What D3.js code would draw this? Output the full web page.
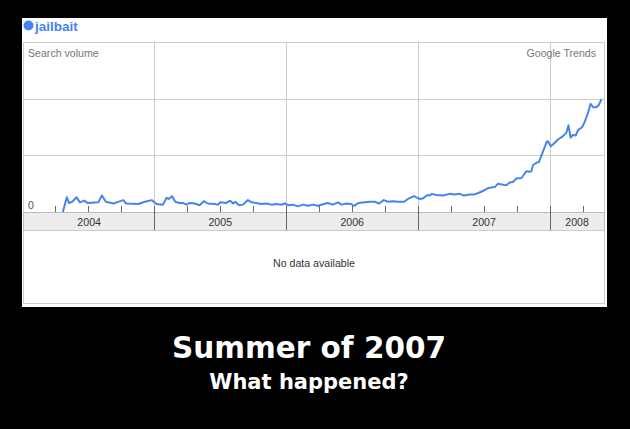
<!DOCTYPE html>
<html>
<head>
<meta charset="utf-8">
<script src="https://cdn.jsdelivr.net/npm/d3@7"></script>
<style>
    body { margin: 0; background: #000; }
    svg { display: block; }
</style>
</head>
<body>
<div id="chart"></div>
<script>

// weekly-ish samples
const dates = [
    "2004-04-23", "2004-05-04", "2004-05-10", "2004-05-19", "2004-05-31", "2004-06-09", "2004-06-21", "2004-06-30",
    "2004-07-30", "2004-08-09", "2004-08-20", "2004-09-10", "2004-09-19", "2004-10-07", "2004-10-15", "2004-11-18",
    "2004-12-06", "2004-12-25", "2005-01-07", "2005-01-25", "2005-02-04", "2005-02-10", "2005-02-19", "2005-02-28",
    "2005-03-12", "2005-03-21", "2005-03-31", "2005-04-09", "2005-04-23", "2005-05-06", "2005-05-18", "2005-05-29",
    "2005-06-17", "2005-06-26", "2005-07-03", "2005-07-19", "2005-07-30", "2005-08-07", "2005-08-13", "2005-08-23",
    "2005-09-03", "2005-09-17", "2005-09-27", "2005-10-10", "2005-10-24", "2005-11-07", "2005-11-21", "2005-12-05",
    "2005-12-19", "2005-12-28", "2006-01-06", "2006-01-20", "2006-02-02", "2006-02-16", "2006-03-02", "2006-03-16",
    "2006-03-30", "2006-04-15", "2006-04-26", "2006-05-10", "2006-05-24", "2006-06-03", "2006-06-16", "2006-06-30",
    "2006-07-09", "2006-07-20", "2006-08-06", "2006-08-20", "2006-09-03", "2006-09-15", "2006-09-28", "2006-10-10",
    "2006-10-23", "2006-11-06", "2006-11-23", "2006-12-04", "2006-12-20", "2007-01-05", "2007-01-14", "2007-01-27",
    "2007-02-02", "2007-02-08", "2007-02-20", "2007-03-11", "2007-03-29", "2007-04-12", "2007-04-26", "2007-05-08",
    "2007-05-24", "2007-06-06", "2007-06-18", "2007-06-29", "2007-07-13", "2007-07-18", "2007-08-01", "2007-08-10",
    "2007-08-24", "2007-09-02", "2007-09-11", "2007-09-20", "2007-09-30", "2007-10-14", "2007-10-23", "2007-10-27",
    "2007-11-04", "2007-11-10", "2007-11-15", "2007-11-24", "2007-12-01", "2007-12-12", "2007-12-23", "2007-12-26",
    "2008-01-03", "2008-01-09", "2008-01-23", "2008-02-06", "2008-02-15", "2008-02-21", "2008-02-27", "2008-03-04",
    "2008-03-12", "2008-03-18", "2008-03-30", "2008-04-06", "2008-04-15", "2008-04-22", "2008-04-29", "2008-05-08",
    "2008-05-15", "2008-05-22"
];

const volume = [
    0, 0.26, 0.16, 0.18, 0.26, 0.17, 0.20, 0.16,
    0.17, 0.29, 0.18, 0.15, 0.17, 0.21, 0.15, 0.14,
    0.18, 0.21, 0.14, 0.13, 0.25, 0.23, 0.28, 0.18,
    0.16, 0.16, 0.13, 0.16, 0.15, 0.12, 0.19, 0.15,
    0.14, 0.13, 0.17, 0.16, 0.20, 0.15, 0.18, 0.12,
    0.13, 0.21, 0.17, 0.16, 0.14, 0.15, 0.13, 0.14,
    0.13, 0.15, 0.12, 0.13, 0.10, 0.13, 0.11, 0.13,
    0.11, 0.14, 0.16, 0.13, 0.17, 0.13, 0.15, 0.14,
    0.11, 0.16, 0.17, 0.18, 0.18, 0.15, 0.21, 0.18,
    0.19, 0.18, 0.18, 0.23, 0.28, 0.23, 0.24, 0.30,
    0.29, 0.32, 0.30, 0.29, 0.32, 0.31, 0.32, 0.29,
    0.31, 0.31, 0.34, 0.37, 0.42, 0.43, 0.44, 0.50,
    0.48, 0.47, 0.52, 0.53, 0.59, 0.60, 0.68, 0.72,
    0.71, 0.72, 0.83, 0.87, 0.88, 1.06, 1.24, 1.25,
    1.16, 1.19, 1.28, 1.34, 1.40, 1.53, 1.31, 1.36,
    1.35, 1.44, 1.50, 1.59, 1.75, 1.91, 1.85, 1.85,
    1.89, 1.99
];

const yearLabels = ["2004", "2005", "2006", "2007", "2008"];
const seriesName = "jailbait";
const title = "Summer of 2007";
const subtitle = "What happened?";

const width = 630,
    height = 429,
    plot = ({ top: 42, right: 604, bottom: 212, left: 24 }),
    band = 18; // height of the grey year strip

let parse = d3.timeParse("%Y-%m-%d");
let data = dates.map((d, i) => ({ date: parse(d), value: volume[i] }));

let svg = d3.select("#chart")
    .append("svg")
    .attr("width", width)
    .attr("height", height)
    .attr("viewBox", [0, 0, width, height]);

let x = d3.scaleTime()
    .domain([new Date(2004, 0, 1), new Date(2008, 5, 1)])
    .range([22, 605]);

let y = d3.scaleLinear()
    .domain([0, 3])
    .range([plot.bottom, plot.top]);

const font = "'Liberation Sans', Arial, sans-serif";

// white card
svg.append("rect")
    .attr("x", 22).attr("y", 18)
    .attr("width", 585).attr("height", 289)
    .attr("fill", "#fff");

// legend
svg.append("circle")
    .attr("cx", 28.5).attr("cy", 25.5).attr("r", 5)
    .attr("fill", "#4684ee");

svg.append("text")
    .attr("x", 35).attr("y", 31)
    .attr("font-family", font)
    .attr("font-size", 13.5)
    .attr("font-weight", "bold")
    .attr("fill", "#4684ee")
    .text(seriesName);

// horizontal grid
svg.append("g")
    .selectAll("line")
    .data([1, 2])
    .join("line")
    .attr("x1", plot.left).attr("x2", plot.right)
    .attr("y1", d => Math.round(y(d)) + 0.5)
    .attr("y2", d => Math.round(y(d)) + 0.5)
    .attr("stroke", "#ccc");

let years = d3.timeYear.range(new Date(2005, 0, 1), new Date(2008, 1, 1));
let quarters = d3.timeMonth.every(3).range(new Date(2004, 0, 1), new Date(2008, 5, 1))
    .filter(d => x(d) > plot.left && x(d) < plot.right);

// vertical year grid
svg.append("g")
    .selectAll("line")
    .data(years)
    .join("line")
    .attr("x1", d => Math.round(x(d)) + 0.5)
    .attr("x2", d => Math.round(x(d)) + 0.5)
    .attr("y1", plot.top).attr("y2", plot.bottom)
    .attr("stroke", "#ccc");

// frame
svg.append("rect")
    .attr("x", plot.left - 0.5).attr("y", plot.top + 0.5)
    .attr("width", plot.right - plot.left + 1).attr("height", plot.bottom - plot.top)
    .attr("fill", "none")
    .attr("stroke", "#ccc");

svg.append("text")
    .attr("x", 28).attr("y", 57)
    .attr("font-family", font).attr("font-size", 10.6)
    .attr("fill", "#777")
    .text("Search volume");

svg.append("text")
    .attr("x", 596).attr("y", 57)
    .attr("text-anchor", "end")
    .attr("font-family", font).attr("font-size", 10.6)
    .attr("fill", "#777")
    .text("Google Trends");

svg.append("text")
    .attr("x", 28).attr("y", 209)
    .attr("font-family", font).attr("font-size", 10.6)
    .attr("fill", "#555")
    .text("0");

// year strip
svg.append("rect")
    .attr("x", plot.left - 0.5).attr("y", plot.bottom + 0.5)
    .attr("width", plot.right - plot.left + 1).attr("height", band)
    .attr("fill", "#ededed")
    .attr("stroke", "#bbb");

svg.append("g")
    .selectAll("line")
    .data(years)
    .join("line")
    .attr("x1", d => Math.round(x(d)) + 0.5)
    .attr("x2", d => Math.round(x(d)) + 0.5)
    .attr("y1", plot.bottom).attr("y2", plot.bottom + band)
    .attr("stroke", "#666");

// quarter ticks above the axis
svg.append("g")
    .selectAll("line")
    .data(quarters)
    .join("line")
    .attr("x1", d => Math.round(x(d)) + 0.5)
    .attr("x2", d => Math.round(x(d)) + 0.5)
    .attr("y1", plot.bottom - 6).attr("y2", plot.bottom)
    .attr("stroke", "#666");

svg.append("g")
    .selectAll("text")
    .data(yearLabels)
    .join("text")
    .attr("x", d => {
        let x0 = Math.max(x(new Date(+d, 0, 1)), plot.left);
        let x1 = Math.min(x(new Date(+d + 1, 0, 1)), plot.right);
        return (x0 + x1) / 2;
    })
    .attr("y", plot.bottom + 14)
    .attr("text-anchor", "middle")
    .attr("font-family", font).attr("font-size", 10.6)
    .attr("fill", "#333")
    .text(d => d);

// line
svg.append("clipPath")
    .attr("id", "clip")
    .append("rect")
    .attr("x", plot.left).attr("y", plot.top - 5)
    .attr("width", plot.right - plot.left).attr("height", plot.bottom - plot.top + 5);

svg.append("path")
    .datum(data)
    .attr("clip-path", "url(#clip)")
    .attr("fill", "none")
    .attr("stroke", "#4684ee")
    .attr("stroke-width", 2)
    .attr("stroke-linejoin", "round")
    .attr("d", d3.line()
        .x(d => x(d.date))
        .y(d => y(d.value)));

// lower (news) panel
svg.append("rect")
    .attr("x", plot.left - 0.5).attr("y", plot.bottom + band + 0.5)
    .attr("width", plot.right - plot.left + 1).attr("height", 73)
    .attr("fill", "#fff")
    .attr("stroke", "#ccc");

svg.append("text")
    .attr("x", (plot.left + plot.right) / 2).attr("y", 267)
    .attr("text-anchor", "middle")
    .attr("font-family", font).attr("font-size", 10.6)
    .attr("fill", "#333")
    .text("No data available");

// poster caption
svg.append("text")
    .attr("x", 309).attr("y", 358)
    .attr("text-anchor", "middle")
    .attr("font-family", "'DejaVu Sans', sans-serif")
    .attr("font-weight", "bold")
    .attr("font-size", 29.5)
    .attr("fill", "#fff")
    .text(title);

svg.append("text")
    .attr("x", 309).attr("y", 389)
    .attr("text-anchor", "middle")
    .attr("font-family", "'DejaVu Sans', sans-serif")
    .attr("font-weight", "bold")
    .attr("font-size", 21)
    .attr("fill", "#fff")
    .text(subtitle);

</script>
</body>
</html>
